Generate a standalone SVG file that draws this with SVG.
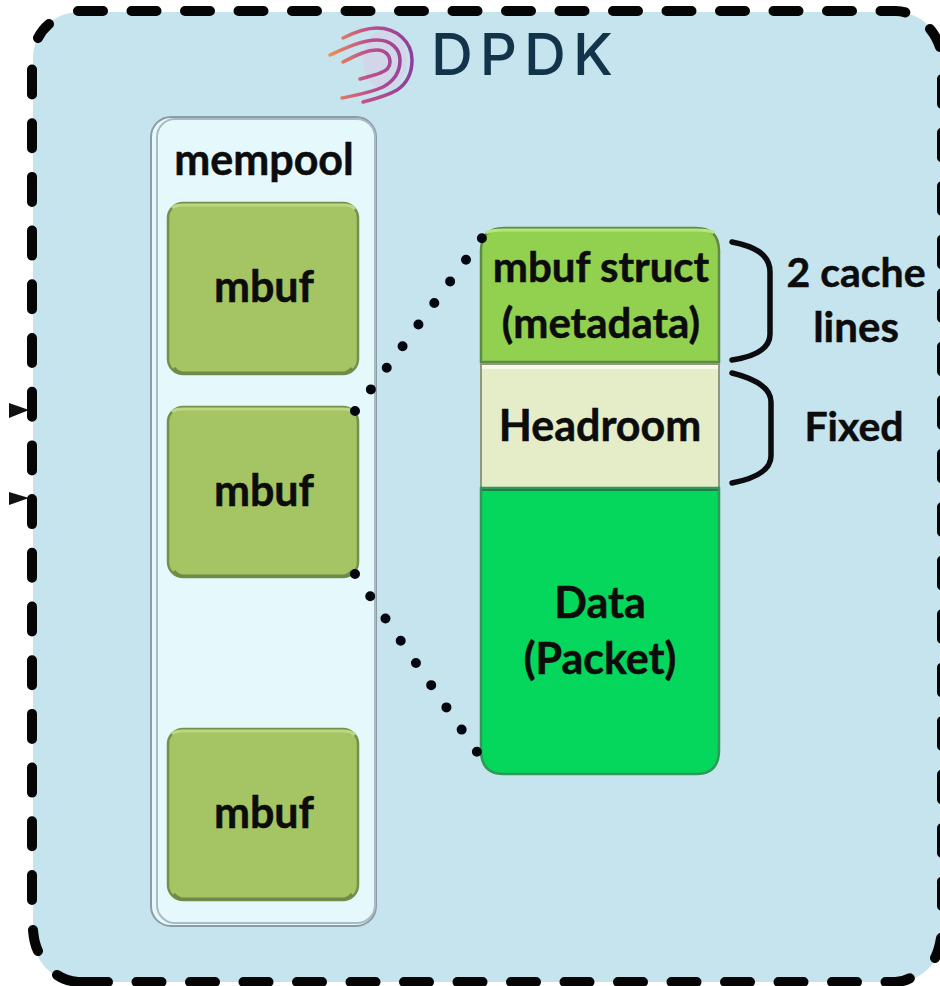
<svg xmlns="http://www.w3.org/2000/svg" width="940" height="986" viewBox="0 0 940 986">
<defs>
<style>
text{font-family:Lato,"Liberation Sans",sans-serif;font-weight:700;fill:#0c0c0c;stroke:#0c0c0c;stroke-width:.5;text-anchor:middle;font-size:43px}
.mb{fill:#a5c463;stroke:#75904a;stroke-width:2.5}
.hi{fill:none;stroke:#bcd682;stroke-width:3}
.lo{fill:none;stroke:#6f8a48;stroke-width:3}
.dash{fill:none;stroke:#050505;stroke-width:10;stroke-linecap:round}
.dot{fill:none;stroke:#03060f;stroke-width:10;stroke-linecap:round}
.br{fill:none;stroke:#0b0b10;stroke-width:5.5;stroke-linecap:round}
.lg{fill:none;stroke-width:3.5;stroke-linecap:round}
</style>
<linearGradient id="arc" gradientUnits="userSpaceOnUse" x1="330" y1="60" x2="412" y2="60"><stop offset="0" stop-color="#ea8f55"/><stop offset=".45" stop-color="#c0508a"/><stop offset="1" stop-color="#8c3f9c"/></linearGradient>
</defs>
<rect width="940" height="986" fill="#fff"/>
<g id="dpdk-frame">
<rect x="33" y="12" width="909" height="970" rx="46" fill="#c5e4ed"/>
<path class="dash" stroke-dasharray="25 28.5" d="M78 11H896Q904 11 912 15"/>
<path class="dash" stroke-dasharray="25 28.5" d="M942 79V906"/>
<path class="dash" stroke-dasharray="25 28.5" d="M136.5 982H895Q904 982 912 977"/>
<path class="dash" stroke-dasharray="25 28.7" d="M32 69.5V900"/>
<path class="dash" d="M49 24Q42 30 38 38M930 29Q936 36 940 47M935 958Q939 950 941 938M57 975Q66 981 78 982H108M33 930Q34 943 38 951"/>
<path d="M9 403L29 410L9 418Z M9 492L29 498L9 505Z" fill="#111"/>
</g>
<g id="dpdk-logo">
<ellipse cx="385" cy="60" rx="22" ry="30" fill="#e9bfe0" opacity=".35"/>
<path class="lg" stroke="url(#arc)" d="M343 38C355 32 366 28 377 28C397 28 412 42 412 60C412 74 406 84 397 90C387 96 375 99 363 102"/>
<path class="lg" stroke="url(#arc)" d="M330 55C345 48 362 40 377 40C391 40 400 49 400 60C400 72 394 81 383 87C370 93 356 95 342 98"/>
<path class="lg" stroke="url(#arc)" d="M343 62C355 56 366 50 377 50C385 50 390 55 390 62C390 68 386 71 380 73C373 76 366 77 360 79"/>
<text x="431" y="75" style="font-family:Inter,Lato,sans-serif;font-weight:500;font-size:58px;letter-spacing:7px;fill:#12344a;stroke:none;text-anchor:start">DPDK</text>
</g>
<g id="mempool">
<rect x="151" y="117" width="225" height="809" rx="20" fill="#e5f8fc" stroke="#8a9ca5" stroke-width="2"/>
<rect x="157" y="119" width="218" height="804" rx="18" fill="none" stroke="#a9bcc4" stroke-width="2"/>
<text x="264" y="175">mempool</text>
</g>
<g id="mbuf-1"><rect class="mb" x="168" y="203" width="190" height="171" rx="15"/><path class="hi" d="M172 208Q175 205 183 205H343Q352 205 355 209"/><path class="lo" d="M174 368Q178 373 183 373H343Q348 373 352 368"/><text x="264" y="302">mbuf</text></g>
<g id="mbuf-2"><rect class="mb" x="168" y="407" width="190" height="170" rx="15"/><path class="hi" d="M172 412Q175 409 183 409H343Q352 409 355 413"/><path class="lo" d="M174 571Q178 576 183 576H343Q348 576 352 571"/><text x="264" y="506">mbuf</text></g>
<g id="mbuf-3"><rect class="mb" x="168" y="729" width="190" height="171" rx="15"/><path class="hi" d="M172 734Q175 731 183 731H343Q352 731 355 735"/><path class="lo" d="M174 894Q178 899 183 899H343Q348 899 352 894"/><text x="264" y="828">mbuf</text></g>
<g id="mbuf-struct">
<path d="M481 362V251Q481 228 504 228H696Q719 228 719 251V362Z" fill="#92d050" stroke="#5f8a45" stroke-width="2.5"/>
<path d="M486 233Q490 230 504 230H696Q710 230 714 233" fill="none" stroke="#b4e47c" stroke-width="3"/>
<text x="601" y="282" style="font-size:42px">mbuf struct</text><text x="601" y="338" style="font-size:42px">(metadata)</text>
</g>
<g id="headroom">
<rect x="481" y="364" width="238" height="124" fill="#e5edc8" stroke="#8e9a7e" stroke-width="2"/>
<path d="M482 367H718" stroke="#f8fae8" stroke-width="4"/>
<text x="600" y="441">Headroom</text>
</g>
<g id="data">
<path d="M481 488H719V750Q719 774 696 774H504Q481 774 481 750Z" fill="#05d65c" stroke="#2f9a58" stroke-width="2.5"/>
<path d="M482 490H718" stroke="#1f7f4c" stroke-width="2"/>
<text x="600" y="618">Data</text><text x="600" y="674">(Packet)</text>
</g>
<g id="labels">
<text x="856" y="287" style="font-size:41px">2 cache</text><text x="856" y="342" style="font-size:42px">lines</text><text x="854" y="441" style="font-size:41px">Fixed</text>
</g>
<g id="connectors">
<path class="dot" stroke-dasharray="0 26.8" d="M355 411L482 238"/>
<path class="dot" stroke-dasharray="0 26.95" d="M355 574L477 752"/>
<path class="br" d="M732 242C752 246 770 253 770 272V334C770 350 752 357 732 360"/>
<path class="br" d="M732 373C752 378 771 386 771 402V456C771 472 752 479 732 483"/>
</g>
</svg>
